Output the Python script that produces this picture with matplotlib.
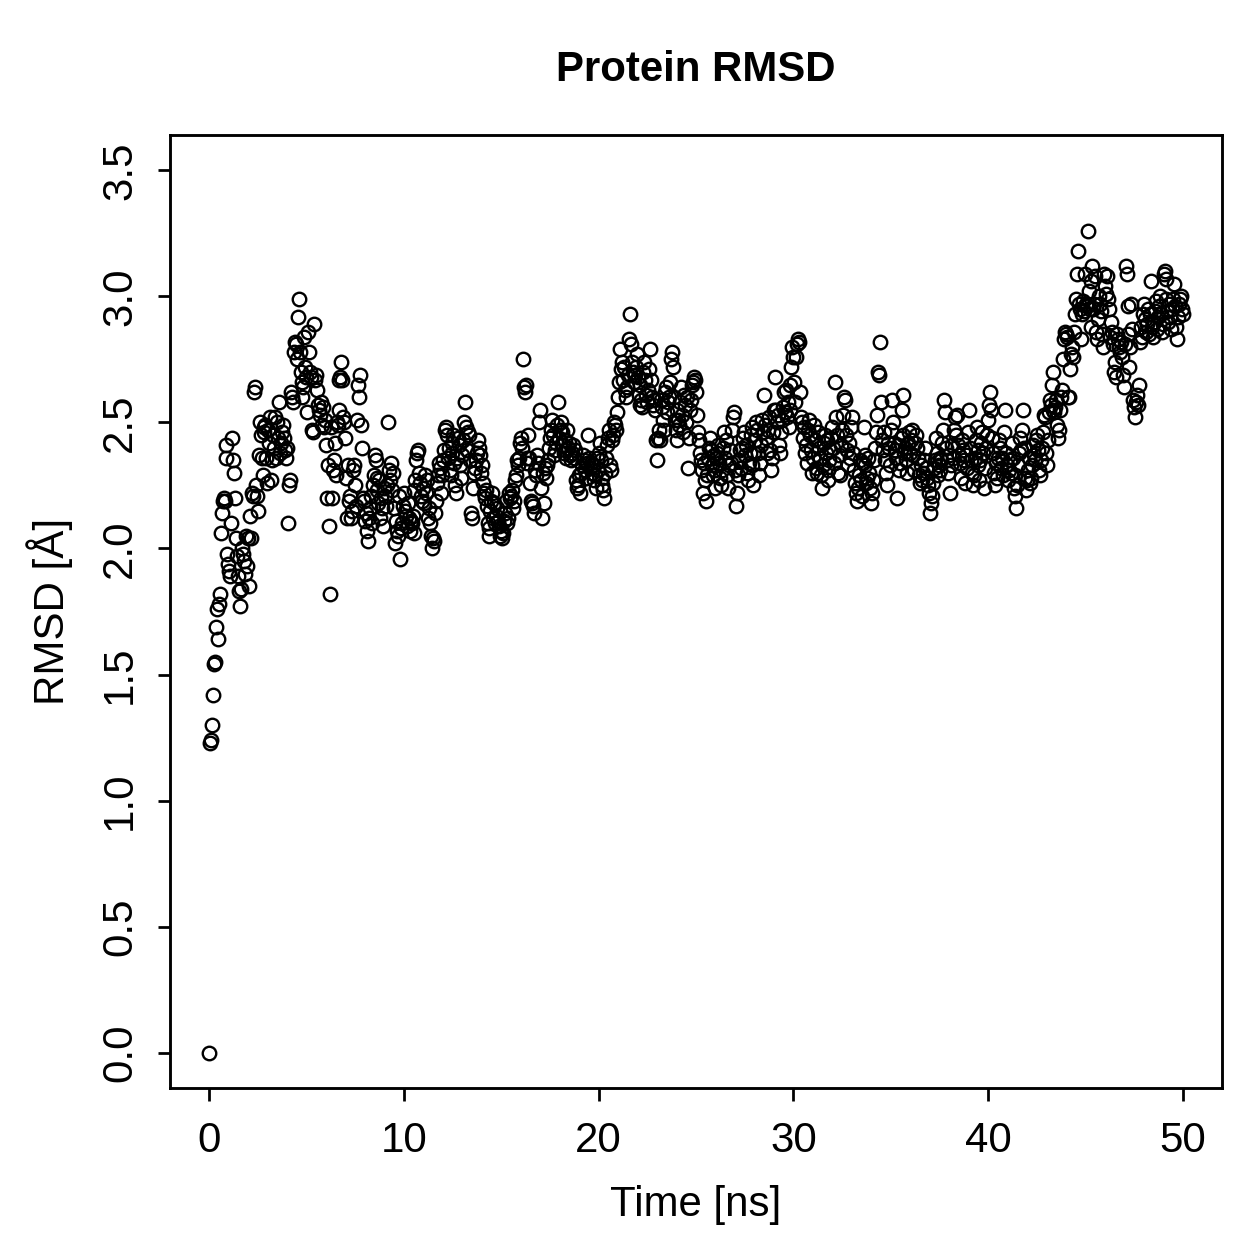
import numpy as np
import matplotlib
matplotlib.use("Agg")
import matplotlib.pyplot as plt

TIME_STEP_NS = 0.05

rmsd = [0.00,
 1.23,1.24,1.30,1.42,1.54,1.55,1.69,1.76,1.64,1.78,1.82,2.06,2.14,2.19,2.20,2.19,2.41,2.36,1.98,1.94,
 1.91,1.89,2.10,2.44,2.35,2.30,2.20,2.04,1.97,1.89,1.83,1.77,1.84,2.00,1.98,1.95,1.90,2.05,1.93,2.04,
 1.85,2.13,2.04,2.22,2.21,2.62,2.64,2.25,2.21,2.15,2.37,2.50,2.45,2.36,2.29,2.48,2.46,2.49,2.36,2.26,
 2.47,2.42,2.52,2.27,2.35,2.45,2.40,2.52,2.36,2.50,2.44,2.58,2.38,2.42,2.46,2.49,2.44,2.39,2.36,2.40,
 2.10,2.25,2.27,2.62,2.60,2.58,2.78,2.82,2.81,2.75,2.92,2.99,2.78,2.70,2.66,2.60,2.64,2.84,2.72,2.68,
 2.54,2.86,2.78,2.70,2.68,2.47,2.46,2.89,2.67,2.69,2.63,2.57,2.55,2.53,2.58,2.49,2.56,2.48,2.51,2.41,
 2.20,2.33,2.09,1.82,2.48,2.20,2.31,2.35,2.42,2.29,2.50,2.49,2.55,2.67,2.68,2.74,2.67,2.52,2.50,2.44,
 2.28,2.12,2.33,2.19,2.21,2.12,2.15,2.31,2.33,2.25,2.17,2.51,2.65,2.60,2.69,2.49,2.40,2.20,2.19,2.11,
 2.14,2.07,2.03,2.12,2.16,2.21,2.10,2.25,2.29,2.37,2.35,2.28,2.23,2.18,2.27,2.12,2.20,2.16,2.09,2.24,
 2.21,2.17,2.25,2.50,2.31,2.27,2.34,2.23,2.30,2.16,2.02,2.11,2.07,2.05,2.21,1.96,2.08,2.10,2.17,2.22,
 2.15,2.13,2.09,2.18,2.12,2.07,2.11,2.10,2.13,2.06,2.23,2.27,2.35,2.38,2.39,2.30,2.26,2.21,2.19,2.24,
 2.18,2.29,2.22,2.27,2.12,2.16,2.10,2.05,2.00,2.04,2.03,2.14,2.19,2.26,2.29,2.34,2.32,2.22,2.29,2.35,
 2.39,2.47,2.48,2.45,2.36,2.40,2.31,2.29,2.42,2.38,2.45,2.34,2.25,2.22,2.36,2.44,2.41,2.33,2.28,2.37,
 2.43,2.50,2.58,2.48,2.39,2.46,2.45,2.35,2.14,2.12,2.24,2.30,2.32,2.35,2.38,2.43,2.40,2.37,2.30,2.33,
 2.26,2.22,2.20,2.23,2.17,2.10,2.05,2.08,2.15,2.19,2.22,2.12,2.18,2.10,2.13,2.16,2.11,2.09,2.05,2.07,
 2.04,2.06,2.11,2.14,2.19,2.10,2.12,2.22,2.20,2.21,2.23,2.16,2.19,2.27,2.29,2.35,2.33,2.36,2.42,2.44,
 2.40,2.75,2.64,2.62,2.65,2.36,2.34,2.45,2.36,2.26,2.19,2.18,2.17,2.14,2.31,2.29,2.37,2.34,2.50,2.55,
 2.24,2.12,2.30,2.18,2.32,2.28,2.33,2.35,2.40,2.44,2.47,2.51,2.45,2.37,2.39,2.42,2.49,2.58,2.44,2.47,
 2.50,2.46,2.41,2.38,2.43,2.39,2.36,2.47,2.40,2.42,2.37,2.35,2.38,2.41,2.36,2.39,2.27,2.24,2.25,2.29,
 2.22,2.30,2.33,2.37,2.35,2.31,2.28,2.34,2.45,2.36,2.32,2.34,2.30,2.33,2.27,2.29,2.24,2.36,2.31,2.38,
 2.42,2.35,2.28,2.25,2.23,2.20,2.30,2.36,2.41,2.44,2.47,2.33,2.31,2.43,2.45,2.50,2.49,2.47,2.54,2.60,
 2.66,2.79,2.71,2.74,2.67,2.72,2.63,2.60,2.64,2.69,2.83,2.93,2.81,2.74,2.70,2.66,2.69,2.72,2.77,2.68,
 2.61,2.57,2.65,2.59,2.56,2.70,2.74,2.67,2.61,2.58,2.63,2.71,2.79,2.67,2.60,2.57,2.59,2.55,2.43,2.35,
 2.44,2.47,2.43,2.59,2.56,2.51,2.47,2.62,2.64,2.54,2.58,2.60,2.66,2.75,2.78,2.72,2.60,2.51,2.47,2.55,
 2.43,2.51,2.49,2.58,2.64,2.53,2.46,2.61,2.57,2.50,2.60,2.32,2.44,2.55,2.59,2.65,2.66,2.68,2.67,2.62,
 2.53,2.46,2.43,2.38,2.35,2.31,2.22,2.34,2.27,2.19,2.29,2.36,2.40,2.44,2.39,2.33,2.29,2.37,2.31,2.24,
 2.36,2.38,2.41,2.34,2.28,2.25,2.31,2.40,2.46,2.36,2.43,2.29,2.24,2.33,2.39,2.34,2.47,2.52,2.54,2.31,
 2.17,2.22,2.29,2.35,2.39,2.32,2.40,2.44,2.46,2.37,2.41,2.30,2.27,2.34,2.38,2.45,2.48,2.33,2.25,2.38,
 2.43,2.50,2.47,2.38,2.29,2.34,2.41,2.51,2.46,2.61,2.49,2.44,2.38,2.47,2.52,2.39,2.31,2.36,2.46,2.55,
 2.68,2.55,2.50,2.53,2.41,2.38,2.46,2.51,2.56,2.62,2.54,2.63,2.52,2.58,2.48,2.55,2.65,2.72,2.80,2.76,
 2.66,2.58,2.76,2.81,2.83,2.82,2.62,2.52,2.50,2.44,2.48,2.38,2.41,2.34,2.47,2.51,2.45,2.39,2.30,2.36,
 2.49,2.43,2.32,2.30,2.46,2.40,2.36,2.29,2.24,2.33,2.42,2.45,2.38,2.43,2.31,2.27,2.35,2.39,2.44,2.48,
 2.40,2.34,2.66,2.52,2.45,2.30,2.37,2.29,2.41,2.47,2.53,2.60,2.59,2.45,2.39,2.33,2.42,2.36,2.48,2.52,
 2.38,2.31,2.26,2.22,2.19,2.24,2.29,2.35,2.27,2.21,2.34,2.48,2.37,2.33,2.26,2.28,2.36,2.30,2.24,2.18,
 2.22,2.27,2.35,2.40,2.46,2.53,2.70,2.69,2.82,2.58,2.43,2.39,2.46,2.35,2.30,2.25,2.42,2.40,2.33,2.47,
 2.59,2.50,2.42,2.39,2.36,2.20,2.41,2.31,2.34,2.44,2.55,2.61,2.45,2.38,2.40,2.35,2.30,2.42,2.46,2.38,
 2.43,2.47,2.37,2.31,2.42,2.45,2.40,2.36,2.29,2.26,2.33,2.27,2.30,2.35,2.40,2.32,2.28,2.25,2.22,2.14,
 2.18,2.21,2.26,2.32,2.35,2.44,2.38,2.29,2.33,2.36,2.31,2.35,2.42,2.47,2.59,2.54,2.40,2.35,2.30,2.37,
 2.22,2.33,2.41,2.36,2.47,2.52,2.45,2.53,2.41,2.37,2.34,2.28,2.43,2.39,2.35,2.26,2.37,2.32,2.46,2.55,
 2.40,2.35,2.30,2.25,2.29,2.36,2.43,2.48,2.39,2.33,2.27,2.35,2.42,2.46,2.38,2.24,2.32,2.40,2.45,2.51,
 2.57,2.62,2.55,2.44,2.38,2.30,2.25,2.34,2.28,2.36,2.43,2.40,2.32,2.36,2.29,2.46,2.55,2.38,2.33,2.27,
 2.31,2.35,2.30,2.42,2.36,2.24,2.29,2.21,2.16,2.25,2.33,2.38,2.44,2.39,2.47,2.55,2.40,2.28,2.23,2.27,
 2.31,2.36,2.26,2.28,2.33,2.41,2.37,2.35,2.43,2.45,2.39,2.31,2.29,2.35,2.40,2.46,2.53,2.52,2.38,2.33,
 2.43,2.54,2.59,2.57,2.65,2.70,2.55,2.54,2.56,2.59,2.49,2.44,2.47,2.55,2.60,2.63,2.75,2.83,2.86,2.85,
 2.84,2.60,2.60,2.71,2.77,2.80,2.76,2.86,2.93,2.99,3.09,3.18,2.97,2.95,2.83,2.93,2.98,2.94,3.09,2.97,
 2.96,3.26,3.02,2.95,2.88,3.06,3.12,2.95,2.97,3.08,2.86,2.83,2.91,3.00,2.97,2.94,2.85,2.80,3.09,3.04,
 3.01,3.08,2.99,2.95,2.84,2.90,2.86,2.81,2.70,2.74,2.68,2.85,2.83,2.80,2.78,2.82,2.76,2.69,2.64,2.81,
 3.12,3.09,2.96,2.85,2.72,2.80,2.97,2.87,2.59,2.56,2.52,2.58,2.61,2.57,2.65,2.82,2.88,2.84,2.93,2.97,
 2.91,2.86,2.89,2.95,2.85,2.93,3.06,2.88,2.84,2.90,2.94,2.98,2.87,2.92,2.96,3.00,2.93,2.86,2.89,3.09,
 3.10,3.07,2.99,2.94,2.90,2.97,2.92,2.87,2.95,2.99,3.05,2.96,2.88,2.83,2.92,2.97,2.99,3.00,2.95,2.93,
]

time_ns = np.arange(len(rmsd)) * TIME_STEP_NS

x_ticks = [0, 10, 20, 30, 40, 50]
y_ticks = [0.0, 0.5, 1.0, 1.5, 2.0, 2.5, 3.0, 3.5]
y_tick_labels = ["0.0", "0.5", "1.0", "1.5", "2.0", "2.5", "3.0", "3.5"]

plt.rcParams['font.family'] = ['Liberation Sans', 'DejaVu Sans']

W, H = 1259, 1259
DPI = 180
fig = plt.figure(figsize=(W / DPI, H / DPI), dpi=DPI)
L, R, B, T = 170, 1222, 1088, 135
ax = fig.add_axes([L / W, 1 - B / H, (R - L) / W, (B - T) / H])

ax.plot(time_ns, rmsd, linestyle='none', marker='o', markersize=5.4,
        markerfacecolor='none', markeredgecolor='black', markeredgewidth=0.95)

ax.set_xlim(-2, 52)
ax.set_ylim(-0.14, 3.64)
ax.set_xticks(x_ticks)
ax.set_xticklabels([str(v) for v in x_ticks])
ax.set_yticks(y_ticks)
ax.set_yticklabels(y_tick_labels, rotation=90, va='center')

for s in ax.spines.values():
    s.set_linewidth(1.15)
ax.tick_params(axis='both', direction='out', length=5, width=1.1, labelsize=16.8,
               color='black', labelcolor='black')
ax.tick_params(axis='x', pad=8)
ax.tick_params(axis='y', pad=7)

ax_h = B - T
ax_w = R - L
ax.set_xlabel("Time [ns]", fontsize=16.8, va='center')
ax.xaxis.set_label_coords(0.5, -(1205 - B) / ax_h)
ax.set_ylabel("RMSD [Å]", fontsize=16.8, va='center')
ax.yaxis.set_label_coords(-(L - 50) / ax_w, 0.5)

ax.text(0.5, 1 + (T - 70) / ax_h, "Protein RMSD", transform=ax.transAxes,
        ha='center', va='center', fontsize=16.8, fontweight='bold')

fig.savefig("out.png", dpi=DPI)
